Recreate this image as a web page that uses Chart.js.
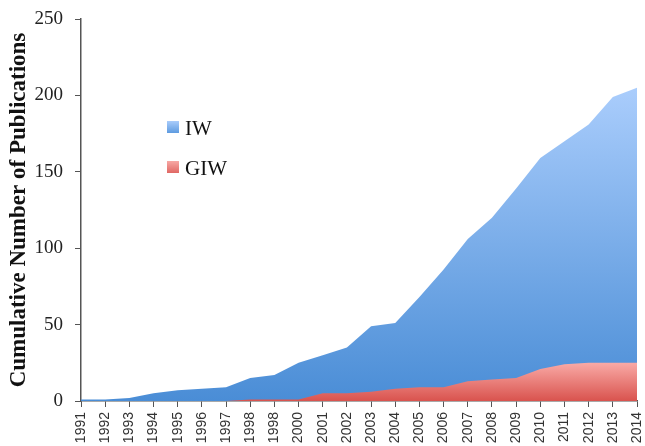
<!DOCTYPE html>
<html><head><meta charset="utf-8">
<script src="https://cdn.jsdelivr.net/npm/chart.js@4.4.0/dist/chart.umd.min.js"></script>
<style>
html,body{margin:0;padding:0;background:#fff;}
#wrap{position:relative;width:645px;height:446px;}
canvas{display:block;}
.lg{position:absolute;font-family:"Liberation Serif",serif;font-size:21px;color:#111;line-height:1;}
.sw{position:absolute;width:12px;height:12px;}
</style></head><body>
<div id="wrap"><canvas id="c" width="645" height="446"></canvas></div>
<script>
const years = ['1991','1992','1993','1994','1995','1996','1997','1998','1998','2000','2001','2002','2003','2004','2005','2006','2007','2008','2009','2010','2011','2012','2013','2014'];
const iwValues = [1,1,2,5,7,8,9,15,17,25,30,35,49,51,68,86,106,120,139,159,170,181,199,205];
const giwValues = [0,0,0,0,0,0,0,1,1,1,5,5,6,8,9,9,13,14,15,21,24,25,25,25];
const seriesNames = ['IW','GIW'];
const yTicks = [0,50,100,150,200,250];
const yTitle = 'Cumulative Number of Publications';

const blueTop = '#aacdfc', blueBottom = '#4a8dd6';
const redTop = '#f9aaa6', redBottom = '#d9534e';

function grad(ctx, top, bottom, vals){
  const chart = ctx.chart;
  if(!chart.chartArea) return top;
  const ys = chart.scales.y;
  const y0 = ys.getPixelForValue(Math.max(...vals));
  const y1 = ys.getPixelForValue(0);
  const g = chart.ctx.createLinearGradient(0, y0, 0, y1);
  g.addColorStop(0, top); g.addColorStop(1, bottom);
  return g;
}

const wrap = document.getElementById('wrap');
const legendPos = [{top:121, c1:'#a9ccfb', c2:'#5e9be0'},{top:161, c1:'#f7a8a4', c2:'#e06864'}];
seriesNames.forEach((n,i)=>{
  const sw = document.createElement('div'); sw.className='sw';
  sw.style.left='167px'; sw.style.top=legendPos[i].top+'px';
  sw.style.background='linear-gradient('+legendPos[i].c1+','+legendPos[i].c2+')';
  wrap.appendChild(sw);
  const t = document.createElement('div'); t.className='lg';
  t.style.left='185px'; t.style.top=(legendPos[i].top-3)+'px'; t.textContent=n;
  wrap.appendChild(t);
});

new Chart(document.getElementById('c'), {
  type:'line',
  data:{
    labels: years,
    datasets:[
      {label:seriesNames[0], data:iwValues, fill:'origin', borderWidth:0, pointRadius:0, tension:0, order:2,
       backgroundColor: c=>grad(c, blueTop, blueBottom, iwValues)},
      {label:seriesNames[1], data:giwValues, fill:'origin', borderWidth:0, pointRadius:0, tension:0, order:1,
       backgroundColor: c=>grad(c, redTop, redBottom, giwValues)}
    ]
  },
  options:{
    responsive:false, animation:false, devicePixelRatio:1,
    layout:{padding:{top:19,right:8,left:0,bottom:0}},
    plugins:{legend:{display:false}, tooltip:{enabled:false}},
    scales:{
      x:{type:'category', offset:false,
        grid:{display:true, drawOnChartArea:false, drawTicks:true, tickLength:6, color:'#555'},
        border:{color:'#555', width:1.5},
        ticks:{minRotation:90, maxRotation:90, autoSkip:false, color:'#333', padding:5,
          font:{family:'"Liberation Sans", Arial, sans-serif', size:14}},
        afterFit: s=>{ s.height = 45; s.paddingLeft = 0; s.paddingRight = 0; }
      },
      y:{min:0, max:250,
        afterBuildTicks: s=>{ s.ticks = yTicks.map(v=>({value:v})); },
        grid:{display:true, drawOnChartArea:false, drawTicks:true, tickLength:6, color:'#555'},
        border:{color:'#555', width:1.5},
        ticks:{color:'#222', padding:12, font:{family:'"Liberation Serif", serif', size:19}},
        title:{display:true, text:yTitle, color:'#111', padding:{top:5,bottom:0},
          font:{family:'"Liberation Serif", serif', size:23, weight:'bold'}},
        afterFit: s=>{ s.width = 81; s.paddingTop = 0; s.paddingBottom = 0; }
      }
    }
  }
});
</script>
</body></html>
